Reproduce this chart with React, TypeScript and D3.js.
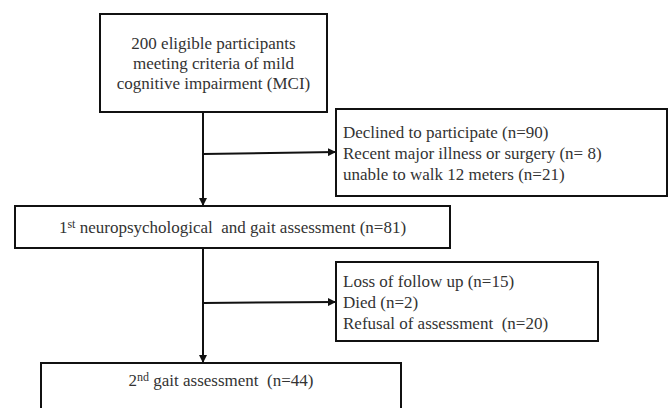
import React from 'react';
import * as d3 from 'd3';

// flow chart content
const enrolLines = ['200 eligible participants', 'meeting criteria of mild', 'cognitive impairment (MCI)'];
const excluded1 = ['Declined to participate (n=90)', 'Recent major illness or surgery (n= 8)', 'unable to walk 12 meters (n=21)'];
const firstAssess = { num: '1', sup: 'st', rest: ' neuropsychological  and gait assessment (n=81)' };
const excluded2 = ['Loss of follow up (n=15)', 'Died (n=2)', 'Refusal of assessment  (n=20)'];
const secondAssess = { num: '2', sup: 'nd', rest: ' gait assessment  (n=44)' };

const W = 672;
const H = 408;
const STROKE = '#111';
const TEXT = '#333';
const FONT = "'Liberation Serif', 'DejaVu Serif', serif";

// layout
const box1 = { x: 100, y: 14, w: 227, h: 98 };
const box2 = { x: 15, y: 206, w: 435, h: 42 };
const box3 = { x: 336, y: 109, w: 331, h: 87 };
const box4 = { x: 336, y: 262, w: 262, h: 79 };
const box5 = { x: 41, y: 363, w: 360, h: 60 };
const spineX = 203;

const Box = ({ b }: { b: { x: number; y: number; w: number; h: number } }) => (
  <rect x={b.x} y={b.y} width={b.w} height={b.h} fill="#fff" stroke={STROKE} strokeWidth={2} />
);

const line = d3.line<[number, number]>();

const Arrow = ({ pts }: { pts: [number, number][] }) => (
  <path d={line(pts) || ''} fill="none" stroke={STROKE} strokeWidth={2} markerEnd="url(#ah)" />
);

const T = (props: any) => (
  <text fontFamily={FONT} fontSize={17} fill={TEXT} dy="0.35em" style={{ whiteSpace: 'pre', fontFamily: FONT }} {...props} />
);

export default function App() {
  const lineY = d3.scaleLinear().domain([0, 1]);
  const y1 = lineY.copy().range([43, 63]);
  const y3 = lineY.copy().range([132, 153]);
  const y4 = lineY.copy().range([281, 302]);

  return (
    <svg width={W} height={H} style={{ position: 'absolute', left: 0, top: 0, background: '#fff' }}>
      <defs>
        <marker id="ah" viewBox="0 0 10 10" refX={10} refY={5} markerWidth={4} markerHeight={4} orient="auto" markerUnits="strokeWidth">
          <path d="M0,0 L10,5 L0,10 z" fill={STROKE} />
        </marker>
      </defs>
      <rect width={W} height={H} fill="#fff" />

      {/* connectors */}
      <Arrow pts={[[spineX, box1.y + box1.h], [spineX, box2.y]]} />
      <Arrow pts={[[spineX, 154], [box3.x, 152]]} />
      <Arrow pts={[[spineX, box2.y + box2.h], [spineX, box5.y]]} />
      <Arrow pts={[[spineX, 303], [box4.x, 302]]} />

      <Box b={box1} />
      <Box b={box2} />
      <Box b={box3} />
      <Box b={box4} />
      <Box b={box5} />

      {enrolLines.map((t, i) => (
        <T key={t} x={box1.x + box1.w / 2} y={y1(i)} textAnchor="middle">{t}</T>
      ))}
      {excluded1.map((t, i) => (
        <T key={t} x={box3.x + 7} y={y3(i)}>{t}</T>
      ))}
      <T x={box2.x + box2.w / 2} y={box2.y + box2.h / 2} textAnchor="middle">
        {firstAssess.num}
        <tspan fontSize={12} dy="-0.45em">{firstAssess.sup}</tspan>
        <tspan dy="0.3em">{firstAssess.rest}</tspan>
      </T>
      {excluded2.map((t, i) => (
        <T key={t} x={box4.x + 7} y={y4(i)}>{t}</T>
      ))}
      <T x={box5.x + box5.w / 2} y={380} textAnchor="middle">
        {secondAssess.num}
        <tspan fontSize={12} dy="-0.45em">{secondAssess.sup}</tspan>
        <tspan dy="0.3em">{secondAssess.rest}</tspan>
      </T>
    </svg>
  );
}
